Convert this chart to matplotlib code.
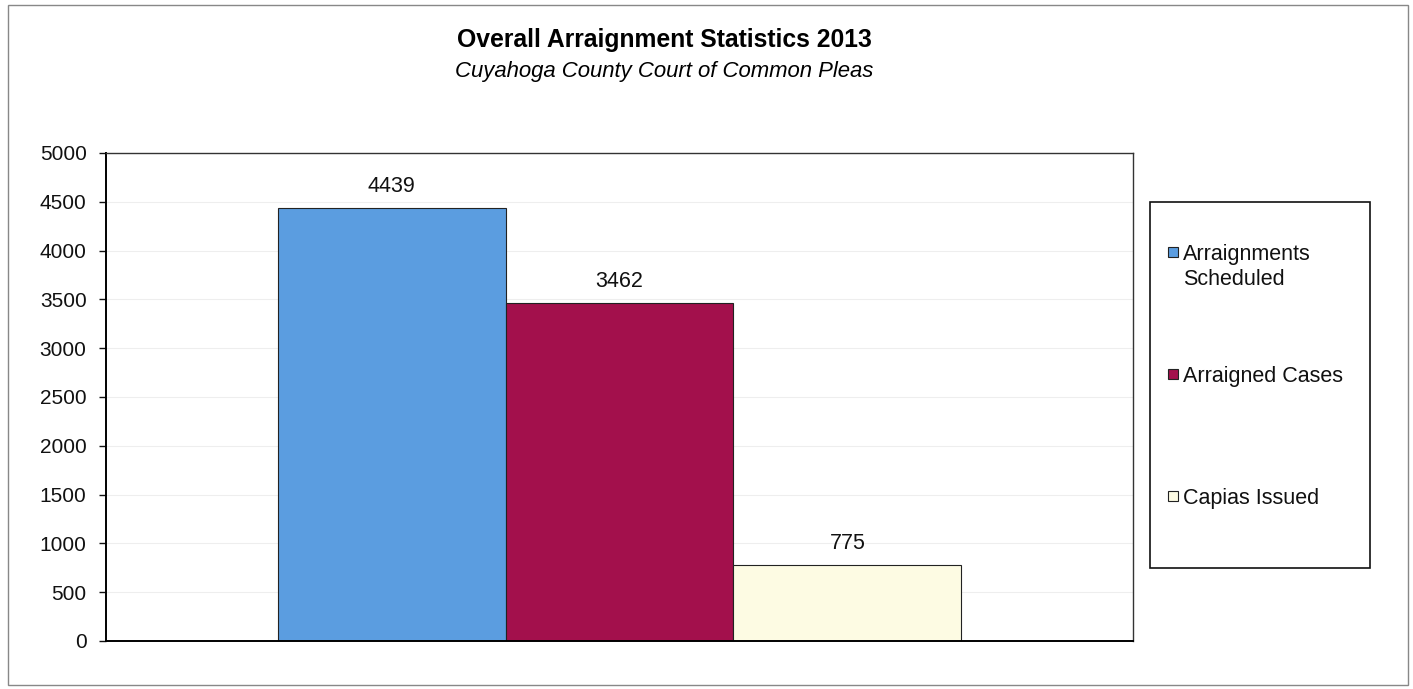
import matplotlib.pyplot as plt
from matplotlib.patches import Rectangle

plt.rcParams["font.family"] = ["Liberation Sans", "DejaVu Sans"]

series = ["Arraignments\nScheduled", "Arraigned Cases", "Capias Issued"]
values = [4439, 3462, 775]
colors = ["#5b9de0", "#a3104c", "#fdfbe3"]
y_ticks = [0, 500, 1000, 1500, 2000, 2500, 3000, 3500, 4000, 4500, 5000]

W, H = 1413, 689
fig = plt.figure(figsize=(W / 100, H / 100), dpi=100)

# outer chart border
fig.patches.append(Rectangle((8 / W, 4 / H), 1400 / W, 680 / H, transform=fig.transFigure,
                             fill=False, edgecolor="#888888", linewidth=1.0))

ax = fig.add_axes([106 / W, 48 / H, 1027 / W, 488 / H])

bar_w = 0.222
offsets = [-bar_w, 0, bar_w]
for name, v, c, off in zip(series, values, colors, offsets):
    ax.bar(off, v, width=bar_w, color=c, edgecolor="#222222", linewidth=0.8, label=name, zorder=2)
    ax.text(off, v + 115, str(v), ha="center", va="bottom", fontsize=15.5, color="#111111")

ax.set_xlim(-0.5, 0.5)
ax.set_ylim(0, 5000)
ax.set_yticks(y_ticks)
ax.set_xticks([])
ax.tick_params(axis="y", labelsize=15, length=5, width=1, pad=9, colors="#111111")
ax.grid(axis="y", color="#eeeeee", linewidth=0.8, zorder=0)
for side in ["left", "bottom"]:
    ax.spines[side].set_linewidth(1.4)
for side in ["top", "right"]:
    ax.spines[side].set_linewidth(1.0)
    ax.spines[side].set_color("#333333")

fig.text(664 / W, 1 - 40 / H, "Overall Arraignment Statistics 2013", ha="center", va="center",
         fontsize=17.8, fontweight="bold")
fig.text(664 / W, 1 - 71 / H, "Cuyahoga County Court of Common Pleas", ha="center", va="center",
         fontsize=15.9, style="italic")

# legend box with entries
fig.patches.append(Rectangle((1150 / W, 1 - 568 / H), 220 / W, 366 / H, transform=fig.transFigure,
                             fill=False, edgecolor="#111111", linewidth=1.2))
legend_y = [252, 374, 496]
for name, c, ly in zip(series, colors, legend_y):
    fig.patches.append(Rectangle((1168 / W, 1 - (ly + 5) / H), 10 / W, 10 / H,
                                 transform=fig.transFigure, facecolor=c,
                                 edgecolor="#222222", linewidth=0.8))
    fig.text(1183 / W, 1 - (ly - 8) / H, name, ha="left", va="top", fontsize=15.5,
             linespacing=1.25, color="#111111")

fig.savefig("out.png", dpi=100)
